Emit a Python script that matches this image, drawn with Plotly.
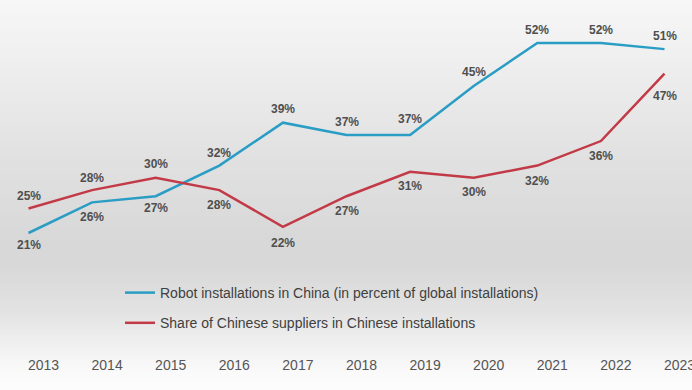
import plotly.graph_objects as go

years = [2013, 2014, 2015, 2016, 2017, 2018, 2019, 2020, 2021, 2022, 2023]
china_share = [21, 26, 27, 32, 39, 37, 37, 45, 52, 52, 51]
chinese_suppliers = [25, 28, 30, 28, 22, 27, 31, 30, 32, 36, 47]
name_china = "Robot installations in China (in percent of global installations)"
name_suppliers = "Share of Chinese suppliers in Chinese installations"

# label placement (style): pixel shift of each value label
shift_china = [-12, -15, -12, 13, 14, 13, 16, 14, 13, 13, 13]
shift_suppliers = [12, 12, 14, -15, -16, -15, -14, -14, -15, -15, -22]

BLUE = "#2a9dc5"
RED = "#c33a47"
LABEL = "#4f4f4f"
FONT = "Liberation Sans, Arial, sans-serif"

W, H = 692, 390
MB = 40

fig = go.Figure()
fig.add_trace(go.Scatter(x=years, y=china_share, mode="lines", name=name_china,
                         line=dict(color=BLUE, width=2.5), legendgroup="a"))
fig.add_trace(go.Scatter(x=years, y=chinese_suppliers, mode="lines", name=name_suppliers,
                         line=dict(color=RED, width=2.5), legendgroup="b"))

for xs, ys, sh in ((years, china_share, shift_china), (years, chinese_suppliers, shift_suppliers)):
    for x, y, s in zip(xs, ys, sh):
        fig.add_annotation(x=x, y=y, text=f"{y}%", showarrow=False, yshift=s,
                           font=dict(family=FONT, size=12, color=LABEL, weight="bold"))

# background gradient (vertical), drawn as thin strips
stops = [(0, 247), (60, 239), (150, 226), (240, 216), (265, 216), (310, 226),
         (345, 240), (372, 250), (390, 252)]

def grey_at(py):
    for (a, ca), (b, cb) in zip(stops[:-1], stops[1:]):
        if a <= py <= b:
            t = (py - a) / (b - a) if b > a else 0
            return round(ca + (cb - ca) * t)
    return stops[-1][1]

ph = H - MB
step = 3
for py in range(0, H, step):
    g = grey_at(py + step / 2)
    y1 = 1 - py / ph
    y0 = 1 - (py + step) / ph
    fig.add_shape(type="rect", xref="paper", yref="paper", x0=-0.01, x1=1.01, y0=y0, y1=y1 + 0.001,
                  fillcolor=f"rgb({g},{g},{g})", line=dict(width=0), layer="below")

x0 = 2013 - 28.5 / 63.6
x1 = x0 + W / 63.6
pxu = 190 / 31
ytop = 21 + 233 / pxu
ybot = 21 - (ph - 233) / pxu

fig.update_layout(
    width=W, height=H,
    margin=dict(l=0, r=0, t=0, b=MB, autoexpand=False),
    paper_bgcolor="#f7f7f7", plot_bgcolor="rgba(0,0,0,0)",
    font=dict(family=FONT),
    showlegend=True,
    legend=dict(x=120 / W, y=1 - 277 / ph, xanchor="left", yanchor="top",
                bgcolor="rgba(0,0,0,0)", font=dict(size=14, color="#404040", family=FONT),
                tracegroupgap=9, traceorder="grouped"),
    xaxis=dict(range=[x0, x1], tickmode="array", tickvals=years, ticktext=[str(y) for y in years],
               showgrid=False, zeroline=False, showline=False, ticks="", automargin=False,
               tickfont=dict(size=14, color="#555555", family=FONT),
               ticklabelshift=15, ticklabelstandoff=5, ticklabeloverflow="allow"),
    yaxis=dict(range=[ybot, ytop], visible=False, showgrid=False, zeroline=False, automargin=False),
)

fig.write_html("out.html", config={"displayModeBar": False},
               post_script="document.body.style.margin='0';")
